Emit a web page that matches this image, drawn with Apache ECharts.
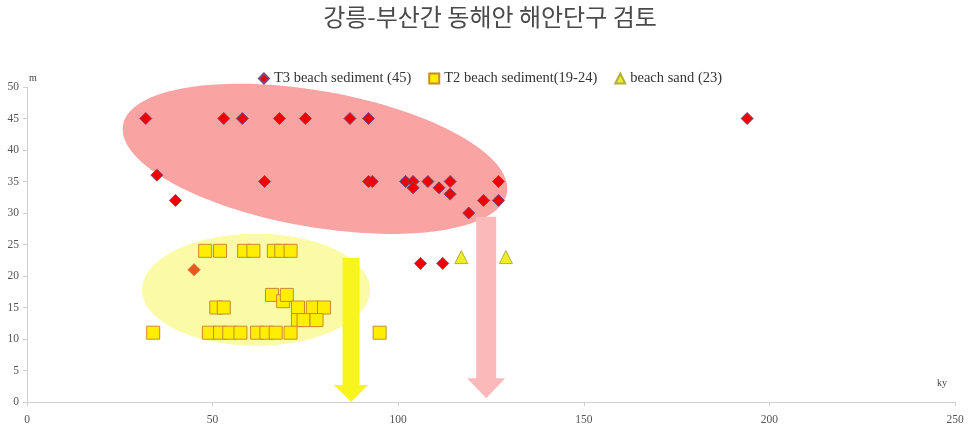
<!DOCTYPE html>
<html>
<head>
<meta charset="utf-8">
<script src="https://cdn.jsdelivr.net/npm/echarts@6/dist/echarts.min.js"></script>
<style>
    html, body { margin: 0; padding: 0; background: #fff; }
    #chart { width: 980px; height: 434px; }
</style>
</head>
<body>
<div id="chart"></div>
<script>
// T3 beach sediment (45) [ky, m]
var t3Data = [
    [32, 45], [53, 45], [58, 45], [68, 45], [75, 45], [87, 45], [92, 45], [194, 45],
    [35, 36],
    [64, 35], [92, 35], [93, 35], [102, 35], [104, 35], [108, 35], [114, 35], [127, 35],
    [104, 34], [111, 34],
    [114, 33],
    [40, 32], [123, 32], [127, 32],
    [119, 30],
    [106, 22], [112, 22]
];
// the odd orange diamond
var t3Odd = [[45, 21]];

// T2 beach sediment(19-24)
var t2Data = [
    [48, 24], [52, 24], [58.5, 24], [61, 24], [66.5, 24], [68.5, 24], [71, 24],
    [66, 17], [69, 16], [70, 17],
    [51, 15], [53, 15], [73, 15], [77, 15], [80, 15],
    [73, 13], [74.5, 13], [78, 13],
    [34, 11], [49, 11], [52, 11], [54.5, 11], [57.5, 11], [62, 11], [64.5, 11], [67, 11], [71, 11], [95, 11]
];

// beach sand (23)
var sandData = [[117, 23], [129, 23]];

var seriesNames = ['T3 beach sediment (45)', 'T2 beach sediment(19-24)', 'beach sand (23)'];

// annotations: ellipse centres [x, y] and arrows [x, yTop, yTip]
var ellipses = [[77.6, 38.6], [61.7, 17.8]];
var arrows = [[87.3, 22.9, 0], [123.7, 29.4, 0.6]];

var chart = echarts.init(document.getElementById('chart'));

var serif = '"Liberation Serif", "DejaVu Serif", serif';

function ellipseItem(params, api) {
    var c = api.coord([api.value(0), api.value(1)]);
    if (params.dataIndex === 0) {
        return {
            type: 'ellipse',
            x: c[0], y: c[1],
            rotation: -10 * Math.PI / 180,
            shape: { cx: 0, cy: 0, rx: 195, ry: 68 },
            style: { fill: '#f9a3a3', stroke: null }
        };
    }
    return {
        type: 'ellipse',
        shape: { cx: c[0], cy: c[1], rx: 114, ry: 56 },
        style: { fill: '#fbfaa6', stroke: null }
    };
}

function arrowItem(params, api) {
    var top = api.coord([api.value(0), api.value(1)]);
    var tip = api.coord([api.value(0), api.value(2)]);
    var yellow = params.dataIndex === 0;
    var sw = yellow ? 8.5 : 10, hw = yellow ? 17 : 19, hl = yellow ? 17 : 20;
    var x = tip[0];
    return {
        type: 'polygon',
        shape: {
            points: [
                [x - sw, top[1]], [x + sw, top[1]], [x + sw, tip[1] - hl],
                [x + hw, tip[1] - hl], [x, tip[1]], [x - hw, tip[1] - hl], [x - sw, tip[1] - hl]
            ]
        },
        style: { fill: yellow ? '#f7f51c' : '#fbb9ba', stroke: null }
    };
}

option = {
    backgroundColor: '#fff',
    animation: false,
    title: {
        text: '강릉-부산간 동해안 해안단구 검토',
        left: 'center',
        top: 0,
        textStyle: {
            fontFamily: '"Noto Sans CJK KR", sans-serif',
            fontWeight: 'normal',
            fontSize: 24,
            color: '#4a4a4a'
        }
    },
    legend: {
        top: 66,
        left: 'center',
        itemWidth: 10,
        itemHeight: 10,
        itemGap: 17,
        data: seriesNames,
        textStyle: { fontFamily: serif, fontSize: 14.5, color: '#333' }
    },
    grid: { left: 27, right: 25, top: 87, bottom: 32 },
    xAxis: {
        type: 'value',
        min: 0, max: 250, interval: 50,
        name: 'ky',
        nameLocation: 'end',
        nameGap: -18,
        nameTextStyle: { fontFamily: serif, fontSize: 10, color: '#444', verticalAlign: 'bottom', padding: [0, 0, 14, 0] },
        axisLine: { lineStyle: { color: '#cfcfcf' } },
        axisTick: { show: true, length: 4, lineStyle: { color: '#cfcfcf' } },
        axisLabel: { fontFamily: serif, fontSize: 11.5, color: '#555', margin: 12 },
        splitLine: { show: false }
    },
    yAxis: {
        type: 'value',
        min: 0, max: 50, interval: 5,
        name: 'm',
        nameLocation: 'end',
        nameGap: 4,
        nameTextStyle: { fontFamily: serif, fontSize: 10, color: '#444', align: 'left', padding: [0, 0, 0, 2] },
        axisLine: { show: true, lineStyle: { color: '#cfcfcf' } },
        axisTick: { show: true, length: 4, lineStyle: { color: '#cfcfcf' } },
        axisLabel: { fontFamily: serif, fontSize: 11.5, color: '#555', margin: 8 },
        splitLine: { show: false }
    },
    series: [
        {
            type: 'custom',
            renderItem: ellipseItem,
            data: ellipses,
            silent: true,
            z: 1
        },
        {
            type: 'custom',
            renderItem: arrowItem,
            data: arrows,
            silent: true,
            z: 1
        },
        {
            name: seriesNames[0],
            type: 'scatter',
            symbol: 'diamond',
            symbolSize: 12,
            data: t3Data.concat(t3Odd.map(function (p) {
                return { value: p, itemStyle: { color: '#e8581a', borderColor: '#d86a3a' } };
            })),
            itemStyle: { color: '#ee0000', borderColor: '#7a4a78', borderWidth: 1, opacity: 1 },
            z: 3
        },
        {
            name: seriesNames[1],
            type: 'scatter',
            symbol: 'rect',
            symbolSize: 13,
            data: t2Data,
            itemStyle: { color: '#ffee00', borderColor: '#cc8a2a', borderWidth: 1, opacity: 1 },
            z: 3
        },
        {
            name: seriesNames[2],
            type: 'scatter',
            symbol: 'triangle',
            symbolSize: 13,
            data: sandData,
            itemStyle: { color: '#eeee22', borderColor: '#b0b040', borderWidth: 1, opacity: 1 },
            z: 3
        }
    ]
};

chart.setOption(option);
</script>
</body>
</html>
